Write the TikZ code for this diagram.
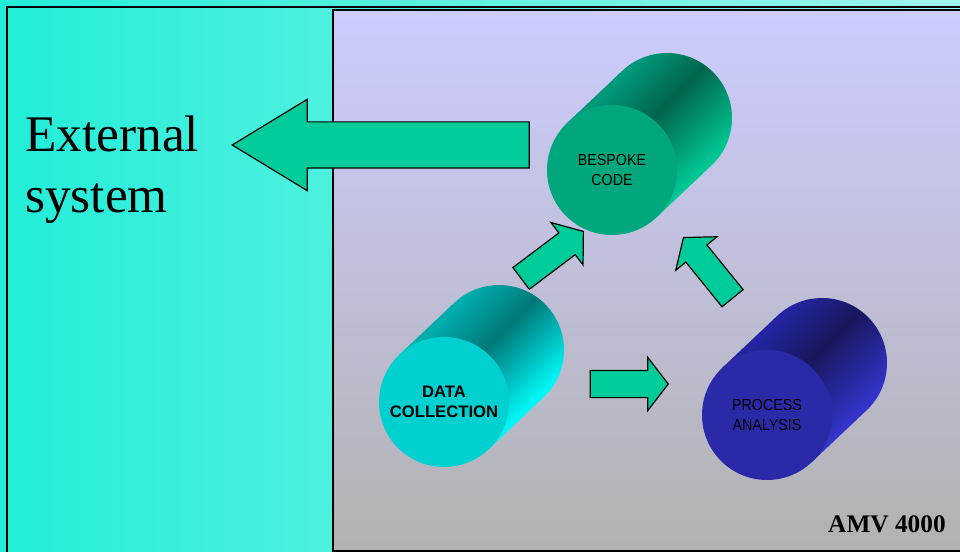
\documentclass[tikz,border=0pt]{standalone}
\usepackage{fontspec}
\setmainfont{Liberation Serif}
\newfontfamily\labelfont[FakeStretch=0.89]{Liberation Sans}
\newfontfamily\labelfontbold{Liberation Sans}
\usetikzlibrary{shapes.arrows, calc, positioning}

\definecolor{cyanL}{RGB}{34,238,216}
\definecolor{cyanR}{RGB}{160,244,236}
\definecolor{panelTop}{HTML}{CCCCFF}
\definecolor{panelBot}{HTML}{B2B2B2}
\definecolor{arrowgreen}{HTML}{00CC99}
% cylinder colours: front face, upper edge, dark band, lower edge
\definecolor{bcFace}{HTML}{00A77D}
\definecolor{bcNW}{HTML}{00987A}
\definecolor{bcDark}{HTML}{00654B}
\definecolor{bcSE}{HTML}{00C794}
\definecolor{dcFace}{HTML}{00D0D0}
\definecolor{dcNW}{HTML}{00ACAC}
\definecolor{dcDark}{HTML}{007878}
\definecolor{dcSE}{HTML}{00F8F8}
\definecolor{paFace}{HTML}{2A2AA8}
\definecolor{paNW}{HTML}{2424A0}
\definecolor{paDark}{HTML}{17175C}
\definecolor{paSE}{HTML}{3434CC}

\pgfdeclarehorizontalshading{bcbody}{100bp}{color(0bp)=(bcNW); color(32bp)=(bcNW); color(47bp)=(bcDark); color(68bp)=(bcSE); color(100bp)=(bcSE)}
\pgfdeclarehorizontalshading{dcbody}{100bp}{color(0bp)=(dcNW); color(32bp)=(dcNW); color(47bp)=(dcDark); color(68bp)=(dcSE); color(100bp)=(dcSE)}
\pgfdeclarehorizontalshading{pabody}{100bp}{color(0bp)=(paNW); color(32bp)=(paNW); color(47bp)=(paDark); color(68bp)=(paSE); color(100bp)=(paSE)}

\begin{document}
\begin{tikzpicture}[
    x=0.75pt, y=-0.75pt,
    face/.style={circle, inner sep=0pt, minimum size=97.5pt, align=center,
        font=\labelfont\fontsize{12}{15}\selectfont},
    blockarrow/.style={single arrow, draw=black, line width=0.9pt, fill=arrowgreen,
        inner xsep=0pt, inner ysep=9.75pt, minimum height=58.5pt,
        single arrow head extend=9.75pt, single arrow tip angle=104.8},
    bigarrow/.style={blockarrow, inner ysep=16.875pt, minimum height=222.75pt,
        single arrow head extend=16.875pt, single arrow tip angle=62.6}
]
\useasboundingbox (0,0) rectangle (960,552);
\clip (0,0) rectangle (960,552);

% background and panel
\shade[left color=cyanL, right color=cyanR] (0,0) rectangle (960,552);
\draw[line width=1.5pt] (7,570) -- (7,7) -- (980,7);
\shade[top color=panelTop, bottom color=panelBot] (333,10) rectangle (980,551);
\draw[line width=1.2pt] (980,10) -- (333,10) -- (333,551) -- (980,551);

\node[anchor=base west, align=left, inner sep=0pt,
      font=\fontsize{38.5}{46}\selectfont] (ext) at (25,213) {External\\system};
\node[anchor=base east, inner sep=0pt,
      font=\bfseries\fontsize{19}{22}\selectfont] (amv) at (946,532) {AMV 4000};

% cylinder backs
\coordinate (bcback) at (667,118);
\coordinate (dcback) at (499,350);
\coordinate (paback) at (822,363);
\def\tang{46.6}
\shade[shading=bcbody, shading angle=-45]
    ($(612,170)+(180+\tang:65)$) -- ($(bcback)+(180+\tang:65)$)
    arc[start angle=180+\tang, end angle=360+\tang, radius=65]
    -- ($(612,170)+(\tang:65)$) -- cycle;
\shade[shading=dcbody, shading angle=-45]
    ($(444,402)+(180+\tang:65)$) -- ($(dcback)+(180+\tang:65)$)
    arc[start angle=180+\tang, end angle=360+\tang, radius=65]
    -- ($(444,402)+(\tang:65)$) -- cycle;
\shade[shading=pabody, shading angle=-45]
    ($(767,415)+(180+\tang:65)$) -- ($(paback)+(180+\tang:65)$)
    arc[start angle=180+\tang, end angle=360+\tang, radius=65]
    -- ($(767,415)+(\tang:65)$) -- cycle;

% cylinder fronts
\node[face, fill=bcFace] (bc) at (612,170) {BESPOKE\\CODE};
\node[face, fill=dcFace, font=\labelfontbold\bfseries\fontsize{12.5}{15}\selectfont]
    (dc) at (444,402) {DATA\\COLLECTION};
\node[face, fill=paFace] (pa) at (767,415) {PROCESS\\ANALYSIS};

% block arrows
\node[bigarrow, anchor=tip, rotate=180] (toext) at (231,145) {};
\node[blockarrow, anchor=tip, rotate=37] (dctobc) at (584,231) {};
\node[blockarrow, anchor=tip, rotate=129] (patobc) at (683,237) {};
\node[blockarrow, anchor=tip] (dctopa) at (669,384) {};
\end{tikzpicture}
\end{document}
